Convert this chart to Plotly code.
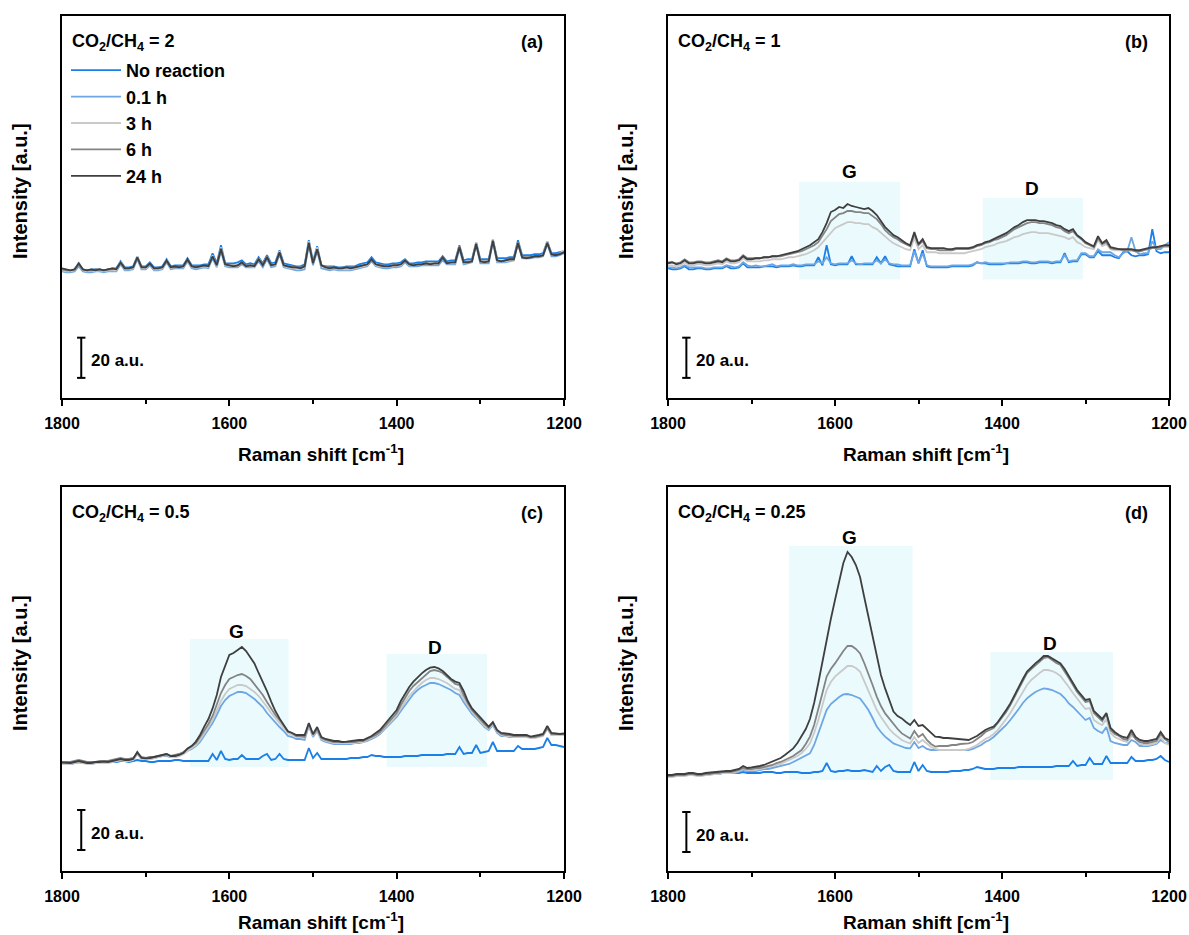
import plotly.graph_objects as go

# Raman shift grid (cm^-1), high to low, 5 cm^-1 steps
shift = list(range(1800, 1199, -5))

series_names = ["No reaction", "0.1 h", "3 h", "6 h", "24 h"]
series_colors = ["#1A7FE6", "#6EA6E3", "#C9C9C9", "#848484", "#3F3F3F"]

ratio_text = ["2", "1", "0.5", "0.25"]
panel_tags = ["(a)", "(b)", "(c)", "(d)"]

# ---- CO2/CH4 = 2 ---- (rows of 50 cm^-1: 1800-1755, 1750-1705, ... , then 1200)
a_none = [64, 63.5, 63, 63.5, 66.5, 63.5, 63.5, 64, 64, 64,
          63.5, 64, 64.5, 64.5, 68, 65, 65, 65.5, 70.5, 65.5,
          65.5, 67.5, 65, 65, 65.5, 69, 65.5, 66, 66, 66,
          69.5, 66, 66, 66, 66.5, 66.5, 72, 67, 76, 67,
          67, 67, 67.5, 68.5, 66.5, 67, 66.5, 70, 67, 71,
          67, 67.5, 73.5, 67, 66.5, 66, 65.5, 65.5, 66.5, 78.5,
          68, 75.5, 66, 65.5, 65.5, 65.5, 65, 65, 65.5, 65.5,
          65.5, 66.5, 67, 67.5, 70, 67.5, 67, 66.5, 66.5, 67,
          67, 67.5, 69, 67, 67, 67.5, 67.5, 68, 68, 68,
          68, 70.5, 68, 68.5, 68.5, 76, 68.5, 69, 69, 77.5,
          69, 69, 69, 79, 69.5, 69.5, 69.5, 70, 70, 78.5,
          71, 71, 71, 71.5, 71.5, 72, 78, 72, 72, 72.5,
          73]
a_01h = [63, 62.5, 62.5, 63, 65.5, 63, 62.5, 62.5, 63, 63,
         62.5, 63, 63, 63, 66.5, 63.5, 63.5, 64, 69, 64,
         64, 66, 63.5, 63.5, 64, 67.5, 64, 64.5, 64.5, 64.5,
         68, 64.5, 64, 64.5, 65, 64.5, 69.5, 65, 73, 65.5,
         65, 65, 65, 66.5, 65, 65, 65, 68, 65, 69,
         65, 65.5, 71.5, 65, 64.5, 64, 63.5, 63.5, 64, 76,
         66, 73, 64.5, 64, 63.5, 64, 63.5, 63.5, 63.5, 63.5,
         64, 64.5, 65, 65.5, 68, 65.5, 65, 64.5, 64.5, 65,
         65, 65.5, 67.5, 65.5, 65.5, 65.5, 66, 66, 66, 66,
         66, 68.5, 66.5, 66.5, 66.5, 74, 66.5, 67, 67.5, 76,
         67, 67, 67, 77.5, 67.5, 67.5, 67.5, 68, 68.5, 76.5,
         69.5, 69.5, 69.5, 70, 70, 70.5, 76.5, 70.5, 70.5, 71,
         72]
a_3h = [63.5, 63, 63, 63.5, 67.5, 63.5, 63, 63.5, 63, 63.5,
        63, 63.5, 63.5, 63.5, 68, 64, 64, 64.5, 70.5, 64.5,
        64.5, 67, 64, 64, 64.5, 69, 64.5, 65, 65, 65,
        69, 65, 65, 65, 65.5, 65, 71, 65.5, 75, 66,
        66, 65.5, 65.5, 67.5, 65.5, 65.5, 65, 69.5, 66, 70.5,
        66, 66, 73, 65.5, 65, 64.5, 64.5, 64.5, 65, 78,
        67, 75, 65.5, 65, 64.5, 64.5, 64, 64, 64, 64,
        64.5, 65, 65.5, 66, 69, 66, 65.5, 65.5, 65.5, 65.5,
        66, 66, 68.5, 66, 66, 66.5, 66.5, 66.5, 66.5, 67,
        67, 70, 67, 67, 67, 75.5, 67, 67.5, 68, 77.5,
        68, 68, 68, 79, 68, 68, 68, 68.5, 68.5, 77.5,
        70, 70, 70, 70.5, 70.5, 71, 78, 71.5, 71, 72,
        73.5]
a_6h = [64, 63.5, 63.5, 64, 66.5, 64, 63.5, 63.5, 64, 64,
        63.5, 64, 64, 64.5, 67, 64.5, 64.5, 65, 69.5, 65.5,
        65, 66.5, 64.5, 65, 65, 68, 65, 65, 65.5, 65.5,
        68.5, 65.5, 65.5, 65.5, 66, 65.5, 70, 66.5, 74.5, 66.5,
        66, 66, 66, 67, 66, 66, 66, 69, 66.5, 70.5,
        66, 66.5, 72, 66, 65.5, 65.5, 65, 65, 65.5, 77.5,
        67.5, 74, 66, 65.5, 65, 65, 64.5, 65, 65, 65,
        65, 65.5, 66, 66.5, 68.5, 66.5, 66, 66, 65.5, 66,
        66.5, 66.5, 68, 66.5, 66, 66.5, 66.5, 67, 67, 67,
        67, 69.5, 67, 67.5, 67.5, 75.5, 67.5, 68, 68, 77,
        68, 68, 68, 78.5, 68.5, 68, 68.5, 69, 69, 77.5,
        70, 70, 70, 70.5, 70.5, 71, 77.5, 71.5, 71, 72,
        72.5]
a_24h = [64.5, 64, 63.5, 64, 67, 64, 63.5, 64, 63.5, 64,
         63.5, 64, 64.5, 64, 67.5, 64.5, 64.5, 65, 70, 65,
         65, 67, 64.5, 64.5, 65, 68.5, 65, 65.5, 65, 65.5,
         69, 65.5, 65, 65.5, 66, 65.5, 70.5, 66, 74, 66.5,
         66, 65.5, 66, 67.5, 65.5, 66, 65.5, 69, 66, 70,
         66, 66.5, 72.5, 66, 65.5, 65, 65, 64.5, 65.5, 77,
         67, 74, 66, 65, 64.5, 65, 64.5, 64.5, 65, 64.5,
         65, 65.5, 66, 66.5, 69, 66.5, 66, 65.5, 65.5, 66,
         66, 66.5, 68.5, 66.5, 66, 66.5, 66.5, 67, 66.5, 67,
         67, 70, 67, 67.5, 67.5, 75, 67.5, 67.5, 68, 76.5,
         68, 67.5, 68, 78, 68.5, 68, 68.5, 69, 69, 77,
         70, 69.5, 70, 70.5, 70.5, 71, 77, 71.5, 71, 71.5,
         72.5]

# ---- CO2/CH4 = 1 ----
b_none = [64.5, 64, 64, 64.5, 65.5, 64, 64, 64.5, 64.5, 64,
          64, 64.5, 64.5, 64.5, 65.5, 64.5, 64.5, 65, 67, 65,
          65, 65, 65, 65.5, 65.5, 65.5, 65, 65.5, 65.5, 65.5,
          66, 65.5, 65.5, 66, 66, 66, 70, 66, 76, 66.5,
          66, 66.5, 66.5, 66.5, 70.5, 66.5, 66.5, 66.5, 66.5, 66.5,
          70, 67, 70.5, 66.5, 66, 65.5, 65.5, 65.5, 65.5, 74,
          67, 73.5, 65.5, 65, 65, 65, 65, 65, 65.5, 65.5,
          65.5, 65.5, 65.5, 66, 67.5, 67, 67, 66.5, 66.5, 66.5,
          66.5, 67, 67, 67, 67, 67.5, 67.5, 67, 67, 67.5,
          67.5, 67.5, 67, 67.5, 67.5, 72, 67.5, 68, 68, 71.5,
          71.5, 70, 70, 73, 71, 71, 71, 70, 69.5, 72.5,
          73, 71, 70.5, 71, 71, 71.5, 84, 73, 72, 72.5,
          72.5]
b_01h = [65, 65, 64.5, 65, 66, 65, 65, 65, 65, 64.5,
         64.5, 65, 65, 65, 66, 65.5, 65, 65.5, 67.5, 66,
         65.5, 66, 65.5, 65.5, 66, 66.5, 65.5, 66, 66, 66,
         66.5, 66, 66, 66.5, 66.5, 66.5, 68, 67, 70, 67,
         66.5, 67, 67, 67, 68.5, 67, 66.5, 67, 67, 67,
         68.5, 67, 69, 67, 66.5, 66.5, 66, 66, 66, 73,
         67, 72, 66, 65.5, 65.5, 65.5, 65.5, 65.5, 66, 66,
         66, 66, 66, 66.5, 67.5, 67, 67.5, 67, 67, 67,
         67, 67, 67.5, 67.5, 67.5, 68, 68, 67.5, 67.5, 68,
         68, 68, 67.5, 68, 68, 71, 68, 68.5, 68.5, 72,
         72, 70.5, 70.5, 74, 72.5, 72.5, 72.5, 71, 70, 72,
         73, 80, 73, 71.5, 72, 72, 78, 74, 74, 76,
         77.5]
b_3h = [66, 66, 65.5, 66, 67.5, 66, 66, 66.5, 66.5, 66,
        66, 66.5, 67, 66.5, 68, 67, 67, 67.5, 69.5, 68,
        68, 68, 68, 68.5, 68.5, 69, 69, 69, 69.5, 70,
        70, 70.5, 71, 71.5, 72.5, 73.5, 75, 77.5, 80, 82.5,
        84.5, 85.5, 86.5, 87.5, 87.5, 87, 87, 86.5, 86.5, 85,
        84, 82, 80, 78.5, 77, 76, 75, 74, 73.5, 79.5,
        74, 76, 72.5, 72.5, 72.5, 72, 72, 72, 72, 72,
        72, 72, 72.5, 73, 73.5, 74, 75, 75.5, 76, 77,
        77.5, 78, 79, 80, 80.5, 81.5, 82, 82.5, 82.5, 82,
        82, 82, 81.5, 81, 80.5, 80, 79, 80, 77.5, 76.5,
        75, 74.5, 74, 78.5, 75.5, 76.5, 74, 73.5, 73.5, 73.5,
        73.5, 73.5, 73, 73, 73.5, 74, 74.5, 74.5, 75, 75,
        75]
b_6h = [67.5, 67.5, 67, 67.5, 69, 67.5, 67.5, 68, 68, 67.5,
        67.5, 68, 68.5, 68, 69.5, 68.5, 68.5, 69, 71, 69.5,
        69.5, 69.5, 69.5, 70, 70, 70.5, 70.5, 70.5, 71, 71.5,
        72, 72.5, 73, 74, 75, 76, 77.5, 80.5, 84, 88,
        90, 91.5, 92, 93, 93, 92.5, 92.5, 92, 92, 90.5,
        89, 86.5, 83.5, 81.5, 80, 79, 77.5, 76.5, 75.5, 81.5,
        76, 78, 74.5, 74, 74, 73.5, 73.5, 73.5, 73.5, 74,
        74, 74, 74, 74.5, 75.5, 76, 77, 77.5, 78.5, 79,
        80, 81, 82.5, 84, 85, 86, 87, 87.5, 87.5, 87,
        87, 86.5, 86, 85, 84.5, 83, 82, 83, 80.5, 79,
        77, 76, 75, 79.5, 76.5, 77.5, 74.5, 74, 74, 73.5,
        73.5, 73.5, 73, 73, 73.5, 74, 74.5, 74.5, 75, 75.5,
        75.5]
b_24h = [67, 67.5, 66.5, 67, 68.5, 67, 67, 67.5, 67.5, 67,
         67, 67.5, 68, 67.5, 69, 68, 68, 68.5, 70.5, 69,
         69, 69.5, 69.5, 70, 70, 70.5, 70.5, 71, 71.5, 72,
         72.5, 73, 74, 75, 76, 77.5, 79, 82.5, 87, 92.5,
         93.5, 95, 94.5, 96.5, 95.5, 95, 94.5, 94, 94.5, 93,
         91, 88, 85, 83, 81, 80, 78.5, 77, 76, 82.5,
         76.5, 79, 75, 74.5, 74.5, 74.5, 74.5, 74, 74, 74.5,
         74.5, 74.5, 74.5, 75, 76, 76.5, 77.5, 78, 79, 80,
         81, 82, 83.5, 85, 86, 87.5, 88.5, 88.5, 88.5, 88,
         88, 87.5, 87, 86, 85.5, 84, 83, 84, 81, 79.5,
         77.5, 76.5, 75.5, 80.5, 77, 78.5, 75, 74.5, 74, 74,
         74, 74, 73.5, 73.5, 74, 74.5, 75, 75, 75.5, 76,
         76]

# ---- CO2/CH4 = 0.5 ----
c_none = [57, 57, 56.5, 57, 57.5, 57, 57, 57, 57, 57.5,
          57.5, 57.5, 57.5, 57.5, 58, 58, 57.5, 58, 58.5, 58,
          58, 57.5, 57.5, 58, 58, 58, 58, 58.5, 58.5, 58,
          58, 58, 58, 58, 58, 58, 61.5, 58.5, 63, 59,
          58.5, 59, 59, 61, 59, 59, 59, 59, 60.5, 61.5,
          58.5, 59, 61.5, 59, 58.5, 58.5, 58.5, 58.5, 58.5, 64.5,
          59.5, 62, 59, 59, 59, 59, 59, 59, 59, 59.5,
          59.5, 59.5, 60, 60, 61, 60.5, 60.5, 60, 60, 60,
          60, 60, 60.5, 60.5, 60.5, 60.5, 61, 61, 61, 61,
          61, 61, 61.5, 61.5, 61.5, 65, 61.5, 62, 62, 66,
          62, 62.5, 63, 67.5, 63, 63, 63, 63, 63, 65.5,
          64, 64, 64, 64, 64.5, 65, 69.5, 66, 66, 65.5,
          65]
c_01h = [57, 56.5, 56.5, 57, 57.5, 57, 57, 56.5, 57, 57,
         57.5, 57.5, 57.5, 58, 58.5, 58, 58, 58.5, 61.5, 59,
         59, 59, 59.5, 60, 60.5, 60.5, 60, 60, 60.5, 61.5,
         63, 64, 65.5, 67.5, 70.5, 73.5, 77, 81, 85.5, 88.5,
         90.5, 91.5, 92.5, 92.5, 92, 90.5, 89, 87, 85, 82,
         79.5, 77, 75, 73, 70.5, 70, 69, 69, 68.5, 75.5,
         70, 73, 68.5, 67.5, 67, 66.5, 66.5, 66.5, 66.5, 66.5,
         67, 67, 67.5, 68, 69, 70, 71.5, 73.5, 75.5, 77.5,
         80, 83, 86, 89, 91.5, 93.5, 95, 96, 97, 97,
         96.5, 95.5, 94.5, 93.5, 92, 91, 87.5, 84.5, 81.5, 79.5,
         77, 75, 73.5, 76, 72, 70.5, 70.5, 70, 70, 70,
         70.5, 71, 70, 70, 70.5, 71, 74.5, 71, 71, 71.5,
         71.5]
c_3h = [56.5, 56.5, 56.5, 57, 57.5, 57, 56.5, 56.5, 57, 57,
        57, 57, 57.5, 58, 58.5, 58, 58, 58.5, 61.5, 59,
        59, 59, 59.5, 60, 60.5, 61, 60, 60, 60.5, 61.5,
        63, 64.5, 66, 68.5, 71.5, 75, 78.5, 83, 88, 91.5,
        94, 95, 96, 96, 95.5, 94, 92.5, 90.5, 88, 85,
        82, 79.5, 77, 74.5, 72, 71, 70, 70, 69.5, 76,
        70.5, 73.5, 69, 68, 67.5, 67, 67, 67, 67, 67,
        67, 67.5, 67.5, 68.5, 69.5, 70.5, 72, 74, 76, 78.5,
        81, 84.5, 87.5, 90.5, 93, 95, 97, 98.5, 99.5, 99.5,
        99, 98, 97, 95.5, 94, 93.5, 89, 86, 82.5, 80,
        77.5, 75.5, 74, 76.5, 72.5, 71, 70.5, 70.5, 70, 70,
        70, 70, 69.5, 69.5, 70, 70.5, 74, 71, 71, 71,
        71]
c_6h = [57.5, 57.5, 57.5, 58, 58.5, 58, 57.5, 57.5, 57.5, 58,
        58, 58, 58.5, 59, 59.5, 59, 59, 59.5, 62, 60,
        59.5, 60, 60, 60.5, 61, 61.5, 60.5, 61, 61.5, 62.5,
        64, 65.5, 67, 70, 73, 76.5, 80.5, 86, 92, 96,
        99, 100, 101, 101.5, 100.5, 99, 96.5, 94, 91, 87.5,
        84, 81, 78.5, 75.5, 73, 72, 70.5, 70.5, 70, 76.5,
        71, 74, 69.5, 68.5, 68, 67.5, 67.5, 67.5, 67.5, 67.5,
        67.5, 68, 68, 69, 70, 71, 72.5, 75, 77, 79.5,
        82, 86, 89.5, 93, 95.5, 97.5, 99.5, 101.5, 103, 103.5,
        103, 102, 100, 98, 96.5, 96, 91, 87, 83.5, 81,
        78.5, 76.5, 74.5, 77, 73, 71.5, 71, 71, 70.5, 70.5,
        70.5, 70.5, 70, 70, 70.5, 71, 74.5, 71.5, 71.5, 71.5,
        71.5]
c_24h = [57.2, 57, 57, 57.5, 58, 57.5, 57, 57, 57.5, 57.5,
         57.7, 57.5, 58, 58.5, 59, 58.5, 58.5, 59, 62.5, 59.5,
         59.3, 59.5, 60, 60.5, 61, 61.5, 60.5, 60.5, 61, 62,
         64.3, 65.5, 67.7, 71, 75.2, 79, 84.3, 91, 100, 106,
         111, 112, 113.5, 115, 113, 110, 106.8, 102, 97.7, 93,
         87.7, 83, 79.3, 76, 72.7, 72, 71, 71, 71, 77,
         71.5, 75, 70, 69, 68.5, 68, 68, 67.5, 67.7, 68,
         68, 68.5, 68.5, 69.5, 70.5, 72, 73.5, 76, 78.5, 81,
         83.5, 88, 91.8, 95, 97.7, 100, 101.8, 103.5, 104.7, 105,
         104.3, 103, 101, 99, 97.7, 97, 93, 88, 84.3, 82,
         79.3, 77, 75.2, 77.5, 73.5, 72, 71.8, 71.5, 71, 71,
         71, 71, 70.2, 70.5, 71, 71.5, 75.5, 72, 71.8, 71.5,
         71.8]

# ---- CO2/CH4 = 0.25 ----
d_none = [51, 51, 51, 51.5, 51.5, 51, 51, 51.5, 51.5, 51.5,
          51.5, 51.5, 51.5, 52, 52, 52, 52, 52, 52.5, 52,
          52, 52, 52, 52.5, 52.5, 52.5, 52, 52, 52.5, 52.5,
          52.5, 52.5, 52, 52, 52, 52.5, 52.5, 53, 57, 53,
          52.5, 53, 53, 53.5, 53, 53, 53, 53.5, 53, 52.5,
          55.5, 53, 55, 56, 53, 52.5, 52.5, 52.5, 52.5, 57.5,
          53, 56, 53, 52.5, 52.5, 52.5, 52.5, 52.5, 53, 53,
          53, 53.5, 53.5, 54, 55, 54.5, 54, 54, 54, 54.5,
          54.5, 54.5, 54.5, 54.5, 55, 55, 55, 55, 55, 55,
          55, 55, 55, 55.5, 55.5, 55.5, 55.5, 58, 55.5, 56,
          56, 59.5, 56.5, 56.5, 56.5, 60.5, 57, 57, 57, 57,
          57, 60, 58, 58, 58, 58.5, 58.5, 59, 60.5, 58.5,
          57.5]
d_01h = [50.5, 50.5, 50.5, 51, 51, 51, 51, 51, 51, 51.5,
         51.5, 51.5, 51.5, 52, 52, 52, 52, 52.5, 53.5, 53,
         53, 53, 53.5, 54, 54, 54.5, 55, 55.5, 56, 56.5,
         57.5, 58.5, 59.5, 60.5, 61.8, 66, 71.8, 78, 83.5, 86.5,
         88.5, 90, 91.3, 91.5, 91, 90, 89.3, 86.5, 83.5, 79.5,
         75.2, 72.5, 70.2, 68.5, 66.8, 66, 65.2, 64.5, 64.3, 67.5,
         64.5, 65.5, 64, 63.5, 63.5, 63.5, 63.5, 63.5, 63.5, 63.5,
         63.5, 63.5, 63.5, 64, 65, 66, 67.5, 68.5, 70, 72,
         73.5, 76, 78.5, 81, 84, 87, 89.3, 91, 92.5, 93.5,
         94.3, 94, 93.5, 92.5, 91.5, 89.5, 86.8, 85, 83, 80.5,
         78.5, 79.5, 74.5, 73, 72, 75, 68, 67, 66.5, 66,
         66, 68.5, 67.5, 65.5, 65.5, 65.5, 66, 66.5, 68.5, 67,
         66.8]
d_3h = [50, 50, 50.5, 50.5, 50.5, 51, 51, 50.5, 50.5, 51,
        51, 51.5, 51.5, 52, 52, 52, 52.5, 53, 54, 53.5,
        53.5, 53.5, 54, 54.5, 55, 55.5, 56, 56.5, 57.5, 58.5,
        59.5, 60.5, 62, 64, 66.8, 72, 78.5, 86, 93.5, 97.5,
        100.2, 102, 104, 105.5, 105.5, 104.5, 102.7, 98, 93.5, 88.5,
        83.5, 80, 76.8, 74, 71.8, 70, 68.5, 67.5, 66.8, 70,
        67, 68.5, 66.5, 65, 64, 63.5, 63.5, 63.5, 63.5, 63.5,
        63.5, 63.5, 64, 65, 66, 67.5, 69, 70, 71.5, 73.5,
        76, 79, 82, 85.5, 89.5, 93, 96, 98.5, 100.5, 102,
        103.5, 103.5, 103, 102, 100.5, 98, 95, 92, 89, 86.5,
        84, 84.5, 78.5, 77, 76, 79, 72, 70, 69, 68,
        67.5, 70.5, 69.5, 66.5, 66, 66, 66.5, 67, 70, 67,
        66]
d_6h = [50.5, 50.5, 51, 51, 51, 51.5, 51.5, 51, 51, 51.5,
        51.5, 52, 52, 52.5, 52.5, 52.5, 53, 53.5, 54.5, 54,
        54, 54.5, 54.5, 55, 55.5, 56, 57, 57.5, 58.5, 59.5,
        60.5, 62, 63.5, 66.5, 70.2, 76, 83.5, 92, 100.2, 104,
        106.8, 110, 113, 115.5, 115.5, 114, 111.8, 107, 101.8, 96,
        90.2, 85.5, 81.8, 79, 76.8, 74, 71.8, 70.5, 69.3, 73,
        70, 71.5, 68.5, 66.5, 65.2, 65.5, 65.5, 65.5, 66, 66,
        66.5, 66.5, 66.8, 67.5, 69, 70.5, 72.5, 73.5, 74.5, 77,
        79.5, 82.5, 86, 90, 94.5, 98.5, 102, 104, 106, 108,
        109.5, 110, 108.5, 107, 106, 103, 99.5, 96, 92.5, 90,
        87.5, 88, 82, 80, 78, 81.5, 73.5, 71.5, 70.5, 69,
        68.5, 72, 69, 67.5, 67, 67, 67.5, 68, 71.5, 69,
        67.5]
d_24h = [51, 51, 51.5, 51.5, 51.5, 52, 52, 51.5, 51.5, 52,
         52.2, 52.5, 52.5, 53, 53, 53, 53.5, 54, 55.5, 54.5,
         54.8, 55, 55.5, 56, 56.8, 57.5, 58.5, 59.5, 61, 62.5,
         64.3, 67, 70.2, 74, 79, 87, 97, 108, 119, 129,
         138.5, 148, 157, 162.5, 160, 156, 150, 140, 130, 120,
         110, 101, 94.3, 88, 82.7, 80.5, 79.3, 77.5, 76, 78.5,
         75.5, 76, 74, 72, 70.2, 70, 69.5, 69.5, 69.3, 69,
         69, 68.5, 68.5, 69.5, 70.5, 72, 73.5, 74.5, 75.2, 77.5,
         80.2, 83.5, 86.8, 91, 95.2, 99, 102.7, 105, 106.8, 108.5,
         110.5, 110.5, 109.3, 108, 106.8, 104, 100.2, 97, 93.5, 91,
         88.5, 89, 83, 81, 79, 82, 74.5, 72.5, 71, 70,
         69.5, 73.5, 70, 68.5, 68, 68, 68.5, 69, 72.5, 69.5,
         68.5]

spectra = [
    [a_none, a_01h, a_3h, a_6h, a_24h],
    [b_none, b_01h, b_3h, b_6h, b_24h],
    [c_none, c_01h, c_3h, c_6h, c_24h],
    [d_none, d_01h, d_3h, d_6h, d_24h],
]

# G / D band windows: (x_hi, x_lo, y_lo, y_hi); None where no bands are marked
g_band = [None, (1643, 1522, 59, 107.5), (1647, 1529, 55, 119), (1655, 1507, 48.5, 165.5)]
d_band = [None, (1423, 1303, 59, 99.5), (1412, 1292, 55, 111.5), (1414, 1267, 48.5, 112.5)]
g_label_pos = [None, (1583, 112.5), (1591, 123), (1583, 170)]
d_label_pos = [None, (1364, 104), (1354, 115), (1343, 117)]

# 20 a.u. scale bar: (x, y_start)
bar_pos = [(1777, 10), (1778, 10), (1777, 13.5), (1778, 12.5)]
bar_len = 20

y_ranges = [[0, 190], [0, 190], [3, 195], [3, 195]]

W, H = 1189, 935
col_dom = [[62 / W, 564 / W], [668 / W, 1169 / W]]
row_dom = [[1 - 398 / H, 1 - 16 / H], [1 - 871 / H, 1 - 487 / H]]
xtitle_gap = [55, 50]

FONT = "Arial, Liberation Sans, sans-serif"
band_fill = "#EBFBFD"

fig = go.Figure()
layout = dict(
    width=W, height=H,
    margin=dict(l=0, r=0, t=0, b=0, autoexpand=False),
    paper_bgcolor="white", plot_bgcolor="white",
    font=dict(family=FONT, color="black"),
    showlegend=True,
    legend=dict(
        x=66 / W, y=1 - 52 / H, xanchor="left", yanchor="top",
        bgcolor="rgba(0,0,0,0)", borderwidth=0,
        font=dict(family=FONT, size=18, color="black", weight="bold"),
        tracegroupgap=0, itemwidth=50,
    ),
)
shapes = []
annotations = []

for p in range(4):
    row, col = divmod(p, 2)
    ax = "" if p == 0 else str(p + 1)
    xref, yref = "x" + ax, "y" + ax

    for k in range(5):
        fig.add_trace(go.Scatter(
            x=shift, y=spectra[p][k], mode="lines",
            line=dict(color=series_colors[k], width=1.8),
            name=series_names[k], legendgroup=series_names[k],
            showlegend=(p == 0),
            xaxis=xref, yaxis=yref,
        ))

    layout["xaxis" + ax] = dict(
        domain=col_dom[col], anchor=yref, range=[1800, 1200], automargin=False,
        tickmode="linear", tick0=1200, dtick=200,
        ticks="outside", ticklen=6, tickwidth=2, tickcolor="black",
        ticklabelstandoff=4,
        minor=dict(ticks="outside", ticklen=4, tickwidth=2, tickcolor="black", dtick=100, tick0=1200),
        showline=True, linewidth=2, linecolor="black", mirror=True,
        showgrid=False, zeroline=False,
        tickfont=dict(family=FONT, size=16, color="black", weight="bold"),
    )
    layout["yaxis" + ax] = dict(
        domain=row_dom[row], anchor=xref, range=y_ranges[p], automargin=False,
        showticklabels=False, ticks="",
        showline=True, linewidth=2, linecolor="black", mirror=True,
        showgrid=False, zeroline=False,
    )

    # band windows
    for band in (g_band[p], d_band[p]):
        if band:
            shapes.append(dict(type="rect", xref=xref, yref=yref,
                               x0=band[0], x1=band[1], y0=band[2], y1=band[3],
                               fillcolor=band_fill, line=dict(width=0), layer="below"))
    for txt, pos in (("G", g_label_pos[p]), ("D", d_label_pos[p])):
        if pos:
            annotations.append(dict(x=pos[0], y=pos[1], xref=xref, yref=yref,
                                    text="<b>%s</b>" % txt, showarrow=False,
                                    font=dict(family=FONT, size=19, color="black")))

    # scale bar
    bx, by = bar_pos[p]
    shapes.append(dict(type="line", xref=xref, yref=yref, x0=bx, x1=bx, y0=by, y1=by + bar_len,
                       line=dict(color="black", width=2)))
    for yy in (by, by + bar_len):
        shapes.append(dict(type="line", xref=xref, yref=yref, x0=bx + 5, x1=bx - 5, y0=yy, y1=yy,
                           line=dict(color="black", width=2)))
    annotations.append(dict(x=bx - 9, y=by + bar_len / 2 - 1.5, xref=xref, yref=yref,
                            xanchor="left", yanchor="middle",
                            text="<b>%d a.u.</b>" % bar_len, showarrow=False,
                            font=dict(family=FONT, size=17, color="black")))

    # panel titles
    x_l, x_r = col_dom[col]
    y_b, y_t = row_dom[row]
    top_px = (1 - y_t) * H
    annotations.append(dict(x=x_l + 8 / W, y=1 - (top_px + 26) / H, xref="paper", yref="paper",
                            xanchor="left", yanchor="middle",
                            text="<b>CO<sub>2</sub>/CH<sub>4</sub> = %s</b>" % ratio_text[p],
                            showarrow=False, font=dict(family=FONT, size=18, color="black")))
    annotations.append(dict(x=x_r - 19 / W, y=1 - (top_px + 26) / H, xref="paper", yref="paper",
                            xanchor="right", yanchor="middle",
                            text="<b>%s</b>" % panel_tags[p],
                            showarrow=False, font=dict(family=FONT, size=18, color="black")))
    # axis titles
    bot_px = (1 - y_b) * H
    annotations.append(dict(x=(x_l + x_r) / 2 + 8 / W, y=1 - (bot_px + xtitle_gap[row]) / H,
                            xref="paper", yref="paper",
                            xanchor="center", yanchor="middle",
                            text="<b>Raman shift [cm<sup>-1</sup>]</b>",
                            showarrow=False, font=dict(family=FONT, size=19, color="black")))
    annotations.append(dict(x=x_l - 42 / W, y=(y_b + y_t) / 2 + 16 / H, xref="paper", yref="paper",
                            xanchor="center", yanchor="middle", textangle=-90,
                            text="<b>Intensity [a.u.]</b>",
                            showarrow=False, font=dict(family=FONT, size=20, color="black")))

layout["shapes"] = shapes
layout["annotations"] = annotations
fig.update_layout(**layout)
fig.write_html("out.html")
